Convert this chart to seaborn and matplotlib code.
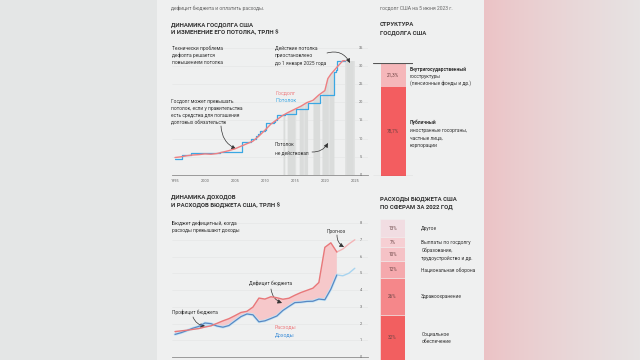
import numpy as np
import matplotlib
matplotlib.use('Agg')
import matplotlib.pyplot as plt
import seaborn as sns

# --- data ---
debt_years = [1995, 1996, 1997, 1998, 1999, 2000, 2001, 2002, 2003, 2004, 2005, 2006,
              2007, 2008, 2009, 2010, 2011, 2012, 2013, 2014, 2015, 2016, 2017, 2018,
              2019, 2020, 2020.5, 2021, 2022, 2023, 2023.4]
debt_values = [4.8, 5.0, 5.3, 5.5, 5.6, 5.8, 5.7, 5.9, 6.3, 6.7, 7.2, 7.9,
               8.6, 9.3, 10.7, 12.3, 14.0, 15.2, 16.4, 17.3, 18.1, 18.9, 19.9, 20.5,
               22.0, 23.2, 26.5, 27.7, 29.6, 31.4, 31.4]

ceiling_years = [1995, 1996.2, 1997.6, 2002.5, 2006.2, 2007.7, 2008.5, 2008.8, 2009.1,
                 2009.95, 2010.1, 2011.6, 2011.7, 2012.05, 2013.4, 2015.2, 2017.2,
                 2019.2, 2021.6, 2021.8, 2021.95, 2023.4]
ceiling_values = [4.3, 5.5, 5.95, 6.4, 8.97, 9.82, 10.62, 11.32, 12.1,
                  12.39, 14.29, 14.69, 15.19, 16.39, 16.7, 18.11, 19.81,
                  21.99, 28.4, 28.88, 31.38, 31.38]

# periods when the debt ceiling was suspended
suspended_from = [2013.1, 2013.8, 2015.8, 2018.1, 2019.6, 2023.4]
suspended_to = [2013.4, 2015.2, 2017.2, 2019.2, 2021.6, 2025.0]

budget_years = list(range(1995, 2023))
outlays = [1.52, 1.56, 1.60, 1.65, 1.70, 1.79, 1.86, 2.01, 2.16, 2.29, 2.47, 2.66, 2.73, 2.98,
           3.52, 3.46, 3.60, 3.54, 3.45, 3.51, 3.69, 3.85, 3.98, 4.11, 4.45, 6.55, 6.82, 6.27]
receipts = [1.35, 1.45, 1.58, 1.72, 1.83, 2.03, 1.99, 1.85, 1.78, 1.88, 2.15, 2.41, 2.57, 2.52,
            2.10, 2.16, 2.30, 2.45, 2.78, 3.02, 3.25, 3.27, 3.32, 3.33, 3.46, 3.42, 4.05, 4.90]
forecast_years = [2022, 2023, 2024, 2025]
outlays_forecast = [6.27, 6.45, 6.75, 7.0]
receipts_forecast = [4.90, 4.85, 5.0, 5.3]

structure_shares = [21.3, 78.7]
spend_labels = ['Другое', 'Выплаты по госдолгу', 'Образование,\nтрудоустройство и др.',
                'Национальная оборона', 'Здравоохранение', 'Социальное\nобеспечение']
spend_shares = [13, 7, 10, 12, 26, 32]

debt_ticks = [0, 5, 10, 15, 20, 25, 30, 35]
budget_ticks = [0, 1, 2, 3, 4, 5, 6, 7, 8]
year_ticks = [1995, 2000, 2005, 2010, 2015, 2020, 2025]

# --- style ---
sns.set_style('white')
plt.rcParams['font.family'] = ['Roboto', 'DejaVu Sans']
plt.rcParams['hatch.linewidth'] = 0.6

RED = '#ee7f82'
BLUE = '#3aa7e3'
TXT = '#333333'
GREY = '#666666'
PANEL = '#eff0f0'


def F(x, y):
    # pixel position -> figure fraction
    return (x / 640, 1 - y / 360)


def rect(x0, y0, x1, y1):
    return [x0 / 640, 1 - y1 / 360, (x1 - x0) / 640, (y1 - y0) / 360]


fig = plt.figure(figsize=(6.4, 3.6), dpi=100)

# background: grey page, light panel, pink gradient on the right
bg = fig.add_axes([0, 0, 1, 1], zorder=-10)
img = np.zeros((1, 640, 3))
img[0, :157] = np.array([228, 230, 230]) / 255
img[0, 157:484] = np.array([239, 240, 240]) / 255
t = np.linspace(0, 1, 156)[:, None] ** 0.8
img[0, 484:] = ((1 - t) * np.array([236, 194, 197]) + t * np.array([231, 227, 227])) / 255
bg.imshow(img, aspect='auto', extent=[0, 1, 0, 1])
bg.axis('off')

# --- top text ---
fig.text(*F(171, 8), 'дефицит бюджета и оплатить расходы.', fontsize=3.6, color=GREY, va='center')
fig.text(*F(380, 8), 'госдолг США на 5 июня 2023 г.', fontsize=3.6, color=GREY, va='center')
fig.text(*F(171, 25), 'ДИНАМИКА ГОСДОЛГА США', fontsize=4.3, fontweight='bold', color=TXT, va='center')
fig.text(*F(171, 33), 'И ИЗМЕНЕНИЕ ЕГО ПОТОЛКА, ТРЛН $', fontsize=4.3, fontweight='bold', color=TXT, va='center')
fig.text(*F(380, 25), 'СТРУКТУРА', fontsize=4.3, fontweight='bold', color=TXT, va='center')
fig.text(*F(380, 33), 'ГОСДОЛГА США', fontsize=4.3, fontweight='bold', color=TXT, va='center')


def style_axis(ax, ticks, ymax):
    ax.set_facecolor('none')
    ax.set_xlim(1994.5, 2027.2)
    ax.set_ylim(0, ymax)
    for s in ['top', 'left', 'right']:
        ax.spines[s].set_visible(False)
    ax.spines['bottom'].set_color('#8c8c8c')
    ax.spines['bottom'].set_linewidth(0.6)
    ax.set_yticks(ticks)
    ax.set_yticklabels([])
    ax.tick_params(axis='y', length=0)
    ax.tick_params(axis='x', length=1.5, width=0.4, color='#888888', labelsize=2.8,
                   labelcolor=GREY, pad=1.5)
    ax.grid(axis='y', color='#e3e5e5', lw=0.4)
    ax.set_xlabel('')
    ax.set_ylabel('')
    for v in ticks:
        ax.text(2026.0, v, str(v), fontsize=2.8, color=GREY, ha='center', va='center')


# --- chart 1: debt and ceiling ---
ax1 = fig.add_axes(rect(172, 40, 368, 175))
style_axis(ax1, debt_ticks, 37.1)
for a, b in zip(suspended_from, suspended_to):
    xs = np.linspace(a, b, 40)
    ax1.fill_between(xs, 0, np.interp(xs, debt_years, debt_values), facecolor='#dadcdb',
                     edgecolor='#e6e7e7', hatch='||', lw=0, zorder=1)
sns.lineplot(x=ceiling_years, y=ceiling_values, ax=ax1, color=BLUE, lw=0.9,
             drawstyle='steps-post', zorder=3)
sns.lineplot(x=debt_years, y=debt_values, ax=ax1, color=RED, lw=1.0, zorder=4)
ax1.set_xticks(year_ticks)
ax1.set_xticklabels([str(y) for y in year_ticks])
ax1.set_xlabel('')
ax1.set_ylabel('')

note = dict(fontsize=3.5, color=TXT, va='center')
for i, line in enumerate(['Технически проблема', 'дефолта решается', 'повышением потолка']):
    fig.text(*F(172, 48 + 7.5 * i), line, **note)
for i, line in enumerate(['Действие потолка', 'приостановлено', 'до 1 января 2025 года']):
    fig.text(*F(275, 48 + 7.5 * i), line, **note)
for i, line in enumerate(['Госдолг может превышать', 'потолок, если у правительства',
                          'есть средства для погашения', 'долговых обязательств']):
    fig.text(*F(171, 101 + 7.2 * i), line, **note)
for i, line in enumerate(['Потолок', 'не действовал']):
    fig.text(*F(275, 145 + 7.5 * i), line, **note)
fig.text(*F(275, 93), 'Госдолг', fontsize=3.8, color=RED, va='center')
fig.text(*F(275, 100), 'Потолок', fontsize=3.8, color=BLUE, va='center')


def arrow(ax, start, end, rad):
    ax.annotate('', xy=F(*end), xycoords='figure fraction', xytext=F(*start),
                textcoords='figure fraction', annotation_clip=False,
                arrowprops=dict(arrowstyle='-|>,head_length=0.5,head_width=0.25',
                                connectionstyle=f'arc3,rad={rad}', color=TXT, lw=0.5,
                                mutation_scale=5, shrinkA=0, shrinkB=0))


arrow(ax1, (327, 53), (350, 63), -0.4)
arrow(ax1, (221, 126), (236, 149), 0.3)
arrow(ax1, (312, 152), (328, 143), 0.3)

# --- chart 2: budget ---
ax2 = fig.add_axes(rect(172, 213, 368, 357))
style_axis(ax2, budget_ticks, 8.6)
ax2.set_xticks(year_ticks)
ax2.set_xticklabels([])
ob = np.array(outlays)
rb = np.array(receipts)
ax2.fill_between(budget_years, rb, ob, where=ob >= rb, interpolate=True, color='#f6c8ca', lw=0, zorder=1)
ax2.fill_between(budget_years, rb, ob, where=ob < rb, interpolate=True, color='#bfe0f2', lw=0, zorder=1)
sns.lineplot(x=forecast_years, y=outlays_forecast, ax=ax2, color='#f4b4b6', lw=1.0, zorder=2)
sns.lineplot(x=forecast_years, y=receipts_forecast, ax=ax2, color='#a8d4ef', lw=1.0, zorder=2)
sns.lineplot(x=budget_years, y=receipts, ax=ax2, color='#c4e5f6', lw=2.0, zorder=3)
sns.lineplot(x=budget_years, y=receipts, ax=ax2, color='#5a87c2', lw=0.9, zorder=4)
sns.lineplot(x=budget_years, y=outlays, ax=ax2, color='#e8787a', lw=1.0, zorder=4)
ax2.set_xlabel('')
ax2.set_ylabel('')

fig.text(*F(171, 197), 'ДИНАМИКА ДОХОДОВ', fontsize=4.3, fontweight='bold', color=TXT, va='center')
fig.text(*F(171, 205), 'И РАСХОДОВ БЮДЖЕТА США, ТРЛН $', fontsize=4.3, fontweight='bold', color=TXT, va='center')
fig.text(*F(380, 199), 'РАСХОДЫ БЮДЖЕТА США', fontsize=4.3, fontweight='bold', color=TXT, va='center')
fig.text(*F(380, 207), 'ПО СФЕРАМ ЗА 2022 ГОД', fontsize=4.3, fontweight='bold', color=TXT, va='center')

fig.text(*F(172, 223), 'Бюджет дефицитный, когда', **note)
fig.text(*F(172, 230.5), 'расходы превышают доходы', **note)
fig.text(*F(327, 231), 'Прогноз', **note)
fig.text(*F(249, 283), 'Дефицит бюджета', **note)
fig.text(*F(172, 312), 'Профицит бюджета', **note)
fig.text(*F(275, 327), 'Расходы', fontsize=3.8, color=RED, va='center')
fig.text(*F(275, 335), 'Доходы', fontsize=3.8, color='#3f8fd8', va='center')
arrow(ax2, (337, 235), (344, 247), 0.3)
arrow(ax2, (271, 289), (282, 303), 0.3)
arrow(ax2, (193, 317), (205, 326), 0.3)

# --- debt structure bar ---
ax3 = fig.add_axes(rect(373, 63, 413, 176))
ax3.set_facecolor('none')
ax3.axis('off')
ax3.set_xlim(-1, 1)
ax3.set_ylim(100, 0)
struct_colors = ['#f5b7ba', '#f35d60']
bottom = 0
for share, col in zip(structure_shares, struct_colors):
    ax3.bar([0], [share], bottom=bottom, width=1.25, color=col, lw=0)
    ax3.text(0, bottom + share / 2, f'{share:.1f}%'.replace('.', ','), fontsize=3.3,
             color='#6a4040', ha='center', va='center')
    bottom += share
ax3.axhline(0, color='#555555', lw=0.8)
ax3.axhline(100, color='#555555', lw=0.8)

fig.text(*F(410, 69), 'Внутригосударственный', fontsize=3.5, fontweight='bold', color=TXT, va='center')
fig.text(*F(410, 76.5), 'госструктуры', **note)
fig.text(*F(410, 83), '(пенсионные фонды и др.)', **note)
fig.text(*F(410, 122), 'Публичный', fontsize=3.5, fontweight='bold', color=TXT, va='center')
for i, line in enumerate(['иностранные госорганы,', 'частные лица,', 'корпорации']):
    fig.text(*F(410, 130 + 7.5 * i), line, **note)

# --- budget spending bar ---
ax4 = fig.add_axes(rect(380, 219, 405, 360))
ax4.set_facecolor('none')
ax4.axis('off')
ax4.set_xlim(-0.5, 0.5)
ax4.set_ylim(100, 0)
spend_colors = ['#f1dde2', '#f6cfd3', '#f5c2c6', '#f5a9ad', '#f5878a', '#f25f60']
bottom = 0
for share, col, lab in zip(spend_shares, spend_colors, spend_labels):
    ax4.bar([0], [share], bottom=bottom, width=1.0, color=col, edgecolor=PANEL, lw=0.4)
    ax4.text(0, bottom + share / 2, f'{share}%', fontsize=3.3, color='#6a4545',
             ha='center', va='center')
    ax4.text(1.15, bottom + share / 2, lab, fontsize=3.5, color=TXT, ha='left',
             va='center', linespacing=1.6, clip_on=False)
    bottom += share

fig.savefig('out.png', dpi=100)
